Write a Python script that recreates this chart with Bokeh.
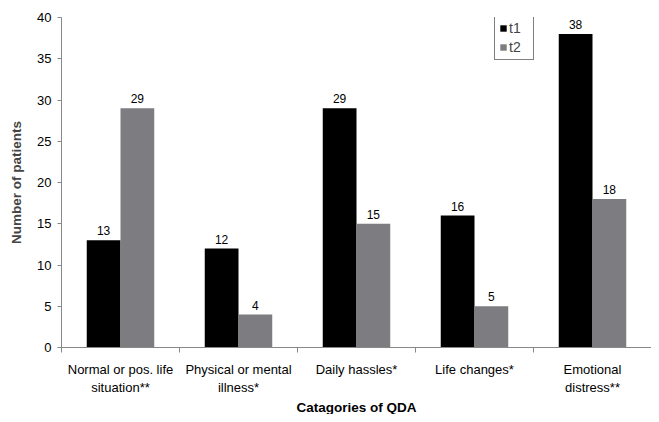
from bokeh.plotting import figure
from bokeh.models import ColumnDataSource, Range1d, FixedTicker, Legend, LegendItem, LabelSet, Title
from bokeh.core.properties import value
from bokeh.embed import file_html
from bokeh.resources import INLINE

categories = ["Normal or pos. life\nsituation**", "Physical or mental\nillness*", "Daily hassles*",
              "Life changes*", "Emotional\ndistress**"]
t1 = [13, 12, 29, 16, 38]
t2 = [29, 4, 15, 5, 18]
y_ticks = [0, 5, 10, 15, 20, 25, 30, 35, 40]
x_title = "Catagories of QDA"
y_title = "Number of patients"

FONT = "Liberation Sans"
centers = [i + 0.5 for i in range(len(categories))]
off = 0.143
bw = 0.286
src1 = ColumnDataSource(dict(x=[c - off for c in centers], top=t1, lab=[str(v) for v in t1]))
src2 = ColumnDataSource(dict(x=[c + off for c in centers], top=t2, lab=[str(v) for v in t2]))

p = figure(width=651, height=414, output_backend="svg", toolbar_location=None,
           x_range=Range1d(0, len(categories)), y_range=Range1d(0, 40),
           min_border_left=61, min_border_right=0, min_border_top=17, min_border_bottom=0)
p.outline_line_color = None
p.xgrid.visible = False
p.ygrid.visible = False

r1 = p.vbar(x="x", top="top", width=bw, source=src1, fill_color="black", line_color=None)
r2 = p.vbar(x="x", top="top", width=bw, source=src2, fill_color="#7c7c81", line_color=None)

for s in (src1, src2):
    p.add_layout(LabelSet(x="x", y="top", text="lab", source=s, text_align="center",
                          text_baseline="bottom", y_offset=5, text_font=value(FONT),
                          text_font_size="12px", text_color="black"))

xa = p.xaxis[0]
xa.ticker = FixedTicker(ticks=centers, minor_ticks=list(range(len(categories) + 1)))
xa.major_label_overrides = {c: lab for c, lab in zip(centers, categories)}
xa.major_tick_out = 0
xa.major_tick_in = 0
xa.minor_tick_out = 5
xa.minor_tick_in = 0
xa.minor_tick_line_color = "#888888"
xa.axis_line_color = "#888888"
xa.major_label_text_font = FONT
xa.major_label_text_font_size = "13px"
xa.major_label_text_color = "black"
xa.major_label_standoff = 9

p.add_layout(Title(text=x_title, align="center", text_font=FONT, text_font_style="bold",
                   text_font_size="13.5px", text_color="black", standoff=0, offset=0), "below")

ya = p.yaxis[0]
ya.ticker = FixedTicker(ticks=y_ticks)
ya.minor_tick_line_color = None
ya.major_tick_out = 4
ya.major_tick_in = 0
ya.major_tick_line_color = "#888888"
ya.axis_line_color = "#888888"
ya.major_label_text_font = FONT
ya.major_label_text_font_size = "13px"
ya.major_label_text_color = "black"
ya.major_label_standoff = 6
ya.axis_label = y_title
ya.axis_label_text_font = FONT
ya.axis_label_text_font_style = "bold"
ya.axis_label_text_font_size = "13.5px"
ya.axis_label_standoff = 10

legend = Legend(items=[LegendItem(label="t1", renderers=[r1]), LegendItem(label="t2", renderers=[r2])],
                location=(433, 287), label_text_font=FONT, label_text_font_size="14px",
                glyph_width=8, glyph_height=8, label_standoff=2, spacing=3, padding=4,
                margin=0, border_line_color="black", border_line_width=1, label_height=16,
                background_fill_alpha=1)
p.add_layout(legend, "center")

open("out.html", "w").write(file_html(p, INLINE))
